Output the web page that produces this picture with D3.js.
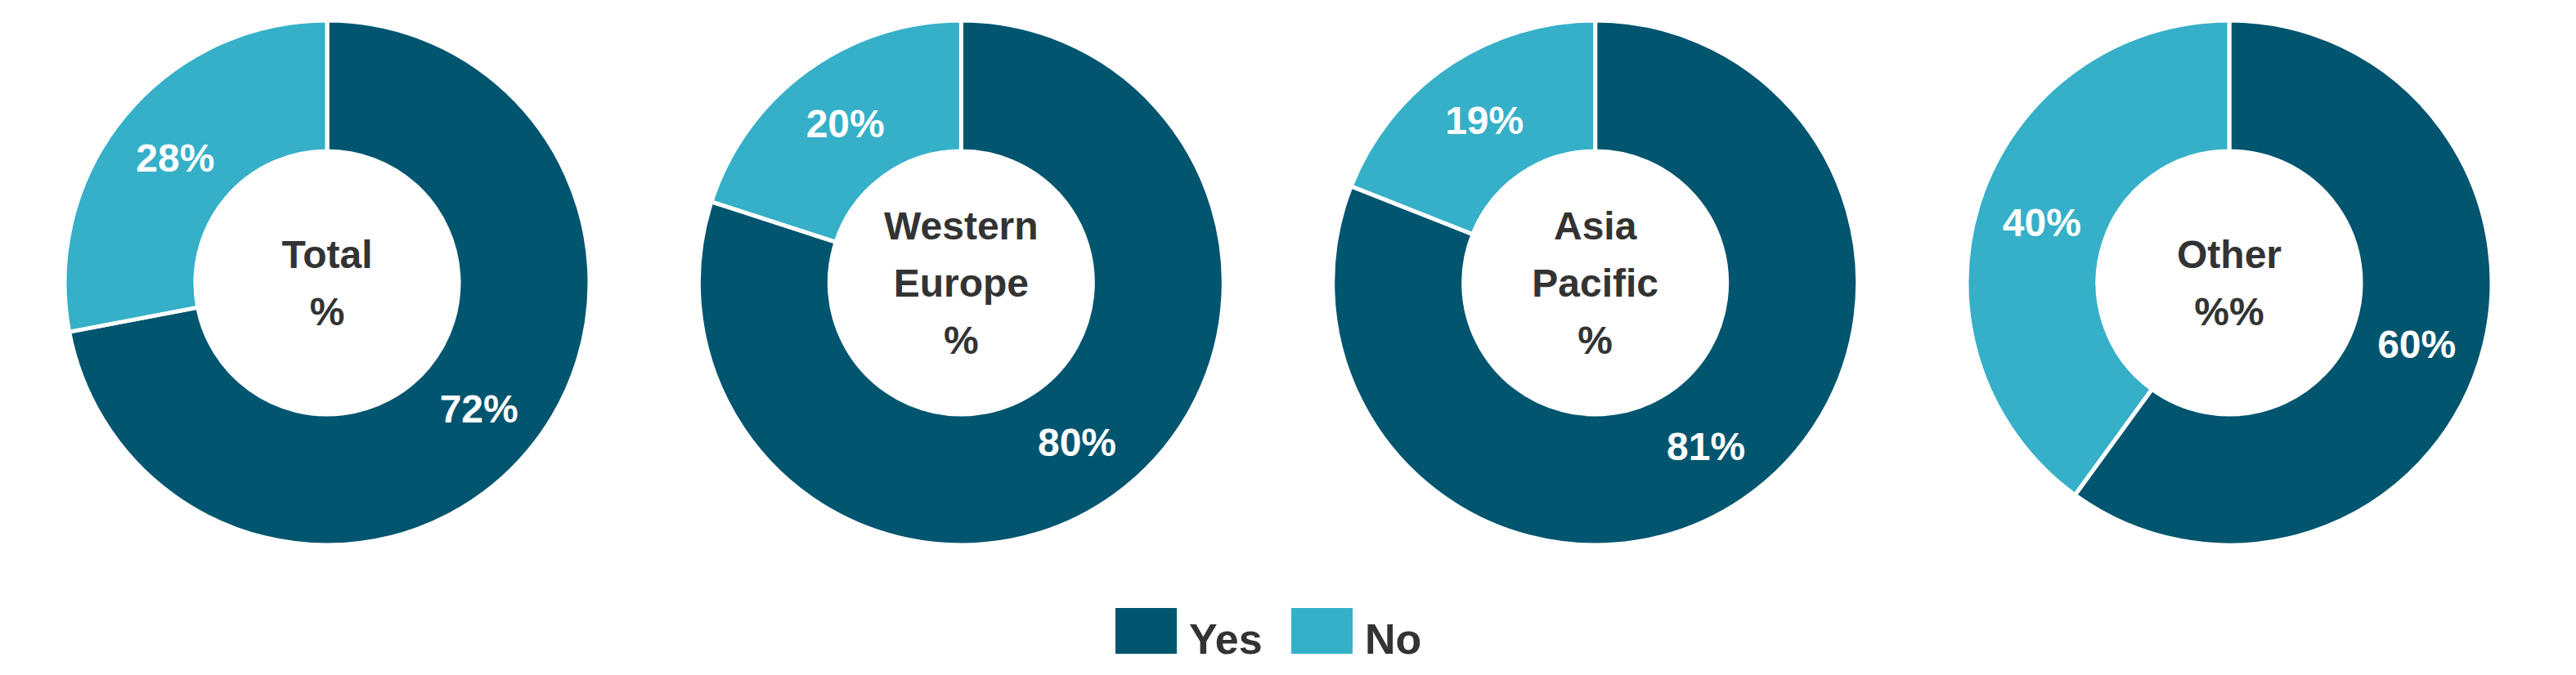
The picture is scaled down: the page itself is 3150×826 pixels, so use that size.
<!DOCTYPE html>
<html><head><meta charset="utf-8">
<script src="https://cdn.jsdelivr.net/npm/d3@7"></script>
<style>body{margin:0;background:#fff}</style>
</head><body>
<div id="graf"></div>
<script>
// datos
REGIONES = [['Total','%'], ['Western','Europe','%'], ['Asia','Pacific','%'], ['Other','%%']]
SI       = [72, 80, 81, 60]
NO       = [28, 20, 19, 40]
SERIES   = ['Yes','No']
COLORES  = ['#02556f','#35b0c8']

ANCHO = 3150, ALTO = 826
R_EXT = 321, R_INT = 161
CY = 346

svg = d3.select('#graf').append('svg').attr('width', ANCHO).attr('height', ALTO)
  .style('font-family','"Liberation Sans", Arial, sans-serif').style('font-weight','bold')

fx = d3.scalePoint().domain(d3.range(REGIONES.length)).range([400, 2726])
fc = d3.scaleOrdinal().domain(SERIES).range(COLORES)

pie = d3.pie().sort(null).value(d => d.v)
arco = d3.arc().innerRadius(R_INT).outerRadius(R_EXT)

REGIONES.forEach((nombre, i) => {
  g = svg.append('g').attr('transform', `translate(${fx(i)},${CY})`)
  datos = pie([{s:'Yes', v:SI[i]}, {s:'No', v:NO[i]}])

  g.selectAll('path').data(datos).enter().append('path')
    .attr('d', arco)
    .attr('fill', d => fc(d.data.s))
    .attr('stroke', 'white')
    .attr('stroke-width', 5)

  g.selectAll('text.val').data(datos).enter().append('text')
    .attr('class','val')
    .attr('transform', d => `translate(${arco.centroid(d)})`)
    .attr('text-anchor','middle').attr('dy','0.36em')
    .attr('font-size', 48).attr('fill','white')
    .text(d => d.data.v + '%')

  n = nombre.length
  g.selectAll('text.lab').data(nombre).enter().append('text')
    .attr('class','lab')
    .attr('text-anchor','middle')
    .attr('y', (d,j) => (j - (n-1)/2) * 70)
    .attr('dy','0.36em')
    .attr('font-size', 48).attr('fill','#333')
    .text(d => d)
})

// leyenda
ley = svg.append('g')
posLey = [1364, 1579]
SERIES.forEach((s, i) => {
  ley.append('rect').attr('x', posLey[i]).attr('y', 744).attr('width', 75).attr('height', 56).attr('fill', fc(s))
  ley.append('text').attr('x', posLey[i] + 90).attr('y', 800).attr('font-size', 52).attr('fill','#333').text(s)
})
</script>
</body></html>
